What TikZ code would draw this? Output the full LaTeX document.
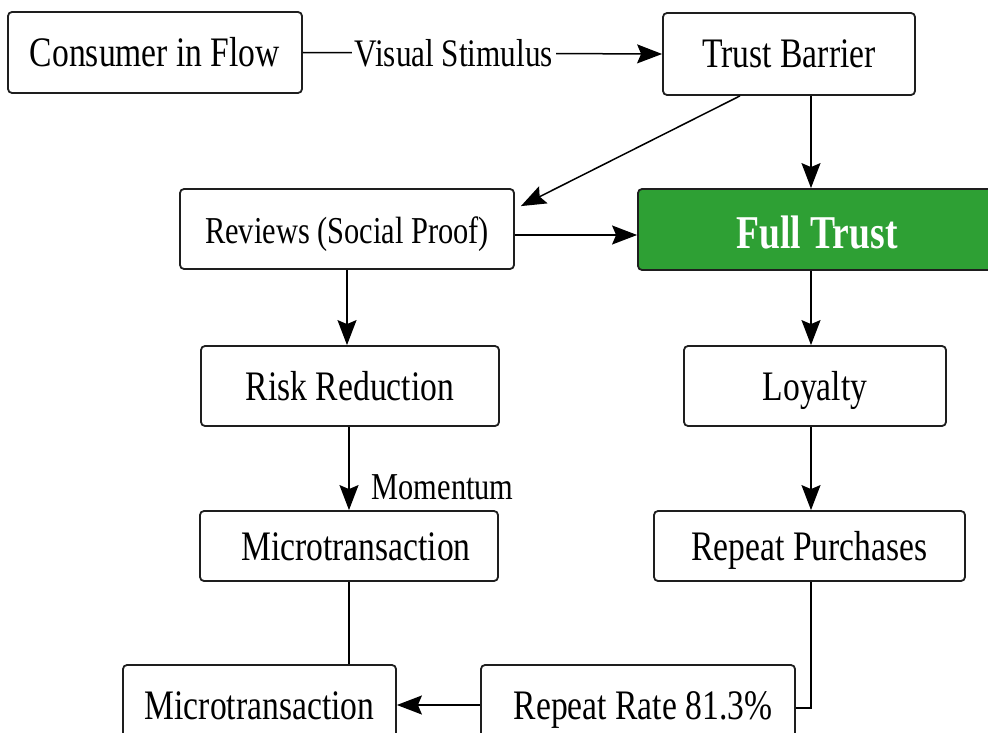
\documentclass[tikz,border=0pt]{standalone}
\usepackage{fontspec}
\setmainfont{Liberation Serif}[FakeStretch=0.8]
\usetikzlibrary{arrows.meta,calc}
\definecolor{trustgreen}{RGB}{46,160,52}
\definecolor{boxline}{RGB}{30,30,30}
\begin{document}
\begin{tikzpicture}[x=1pt,y=-1pt,
  box/.style={draw=boxline,line width=1.8pt,rounded corners=4pt,fill=white,inner sep=0pt,align=center,
    text height=34pt,text depth=6pt,font=\fontsize{42}{44}\selectfont},
  greenbox/.style={box,fill=trustgreen,text=white,font=\fontsize{47}{50}\selectfont\bfseries,text height=40pt,text depth=3pt},
  arr/.style={draw=black,line width=1.5pt,-{Stealth[length=25pt,width=19pt,inset=4pt]}},
  link/.style={draw=black,line width=1.5pt},
  lbl/.style={fill=white,inner sep=3pt,font=\fontsize{39}{40}\selectfont}]
\useasboundingbox (0,0) rectangle (988,733);
\begin{scope}
\clip (0,0) rectangle (988,733);
\fill[white] (0,0) rectangle (988,733);
\node[box,minimum width=294pt,minimum height=81pt] (cif) at (155,52.5) {Consumer in Flow};
\node[box,minimum width=252pt,minimum height=82pt] (tb) at (789,54) {Trust Barrier};
\node[box,minimum width=334pt,minimum height=80pt,font=\fontsize{38}{40}\selectfont] (rev) at (347,229) {Reviews (Social Proof)};
\node[greenbox,minimum width=358pt,minimum height=81pt] (ft) at (817,229.5) {Full Trust};
\node[box,minimum width=298pt,minimum height=80pt] (rr) at (350,386) {Risk Reduction};
\node[box,minimum width=262pt,minimum height=80pt] (loy) at (815,386) {Loyalty};
\node[box,minimum width=298pt,minimum height=70pt] (mt1) at (349,546) {\hspace{14pt}Microtransaction};
\node[box,minimum width=311pt,minimum height=70pt] (rp) at (809.5,546) {Repeat Purchases};
\node[box,minimum width=273pt,minimum height=80pt] (mt2) at (259.5,705) {Microtransaction};
\node[box,minimum width=314pt,minimum height=80pt] (rate) at (638,705) {\hspace{10pt}Repeat Rate 81.3\%};

% connectors
\draw[arr] (cif.east) -- node[lbl,pos=0.42] (vs) {Visual Stimulus} (tb.west);
\draw[arr] ([xshift=-49pt]tb.south) -- ([xshift=6pt,yshift=-18pt]rev.north east);
\draw[arr] ([xshift=22pt]tb.south) -- ([xshift=22pt]tb.south |- ft.north);
\draw[arr] ([yshift=-6pt]rev.east) -- ([yshift=-6pt]rev.east -| ft.west);
\draw[arr] (rev.south) -- (rev.south |- rr.north);
\draw[arr] ([xshift=-6pt]ft.south) -- ([xshift=-6pt]ft.south |- loy.north);
\draw[arr] ([xshift=-1pt]rr.south) -- ([xshift=-1pt]rr.south |- mt1.north)
  node[pos=0.72,anchor=west,inner sep=0pt,xshift=22pt,font=\fontsize{38}{40}\selectfont] (mom) {Momentum};
\draw[arr] ([xshift=-4pt]loy.south) -- ([xshift=-4pt]loy.south |- rp.north);
\draw[link] (mt1.south) -- (mt1.south |- mt2.north);
\draw[link] ([xshift=1.5pt]rp.south) |- ([yshift=-3pt]rate.east);
\draw[arr] (rate.west) -- (mt2.east);
\end{scope}
\end{tikzpicture}
\end{document}
